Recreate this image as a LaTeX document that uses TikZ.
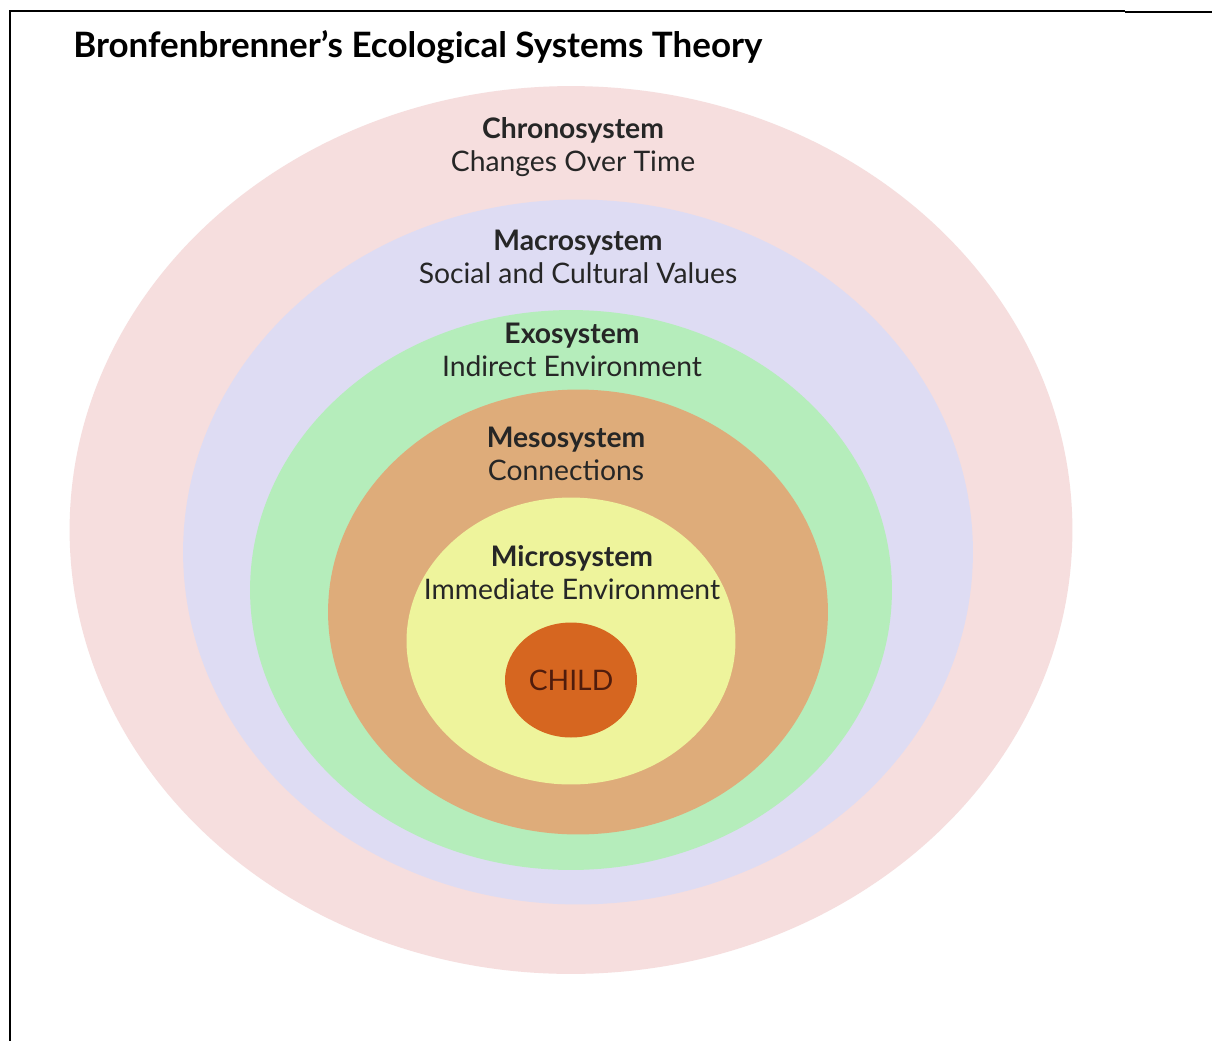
\documentclass[tikz,border=0pt]{standalone}
\usepackage{fontspec}
\setmainfont{Lato}
\usetikzlibrary{shapes.geometric}
\definecolor{colchrono}{RGB}{246,222,222}
\definecolor{colmacro}{RGB}{222,220,243}
\definecolor{colexo}{RGB}{181,237,187}
\definecolor{colmeso}{RGB}{222,172,122}
\definecolor{colmicro}{RGB}{238,244,156}
\definecolor{colchild}{RGB}{214,102,32}
\definecolor{childtext}{RGB}{80,28,12}
\tikzset{%
       ring/.style = { ellipse, inner sep=0pt, draw=none },
      layer/.style = { align=center, font=\fontsize{16.1}{18.7}\selectfont, text=black!85 },
      title/.style = { anchor=base west, inner sep=0pt, font=\fontsize{19.9}{22}\selectfont\bfseries }
}
\begin{document}
\begin{tikzpicture}[x=0.02cm, y=-0.02cm]
  \useasboundingbox (0,0) rectangle (1212,1041);
  \fill[white] (0,0) rectangle (1212,1041);

  \draw[line width=0.6pt] (10,11) -- (1125,11);
  \draw[line width=1.4pt] (1125,12) -- (1212,12);
  \draw[line width=1.2pt] (10,10) -- (10,1041);

  \node[title] (head) at (73,57) {Bronfenbrenner’s Ecological Systems Theory};

  \node[ring, fill=colchrono, minimum width=20.06cm, minimum height=17.76cm] (chrono) at (571,530) {};
  \node[ring, fill=colmacro,  minimum width=15.80cm, minimum height=14.10cm] (macro)  at (578,552) {};
  \node[ring, fill=colexo,    minimum width=12.84cm, minimum height=11.20cm] (exo)    at (571,590) {};
  \node[ring, fill=colmeso,   minimum width=10.00cm, minimum height=8.90cm]  (meso)   at (578,612) {};
  \node[ring, fill=colmicro,  minimum width=6.58cm,  minimum height=5.74cm]  (micro)  at (571,641) {};
  \node[ring, fill=colchild,  minimum width=2.64cm,  minimum height=2.30cm]  (child)  at (571,680) {};

  \node[layer] (chronotxt) at (573,147) {\textbf{Chronosystem}\\Changes Over Time};
  \node[layer] (macrotxt)  at (578,257) {\textbf{Macrosystem}\\Social and Cultural Values};
  \node[layer] (exotxt)    at (572,350) {\textbf{Exosystem}\\Indirect Environment};
  \node[layer] (mesotxt)   at (566,454) {\textbf{Mesosystem}\\Connections};
  \node[layer] (microtxt)  at (572,573) {\textbf{Microsystem}\\Immediate Environment};
  \node[layer, text=childtext] (childtxt) at (child) {CHILD};

\end{tikzpicture}
\end{document}
